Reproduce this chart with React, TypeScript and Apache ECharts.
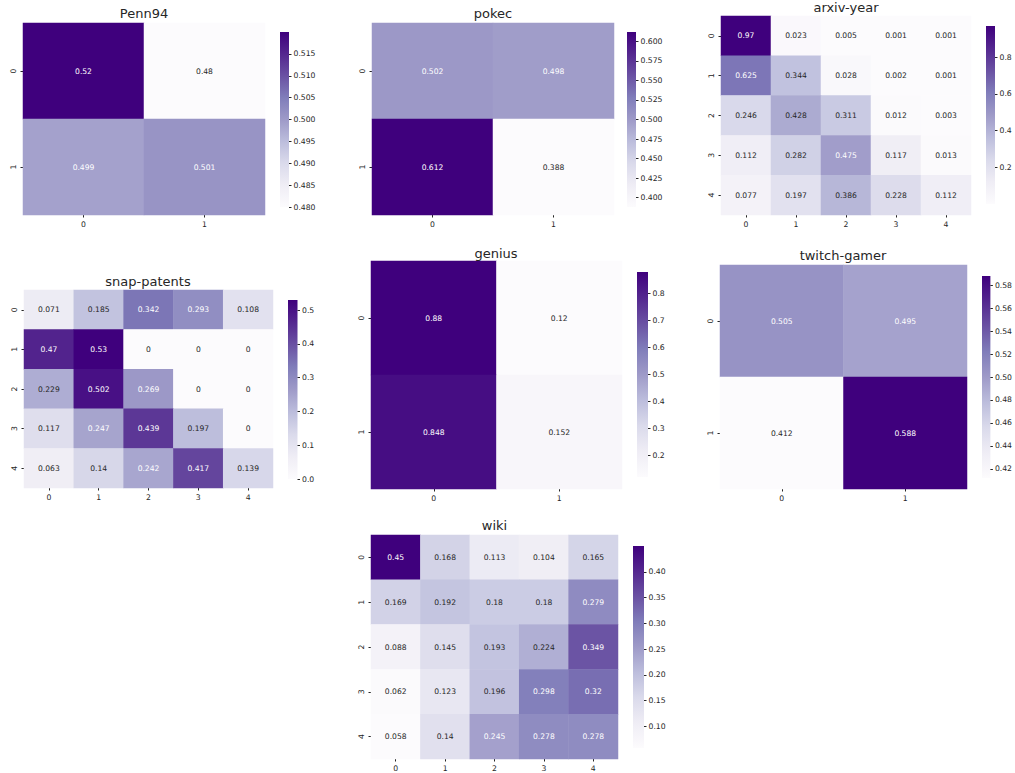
import React, { useEffect, useRef } from "react";
import * as echarts from "echarts";

// ---------- data ----------
const titles = ["Penn94", "pokec", "arxiv-year", "snap-patents", "genius", "twitch-gamer", "wiki"];
const categories2 = ["0", "1"];
const categories5 = ["0", "1", "2", "3", "4"];

const penn94 = [
  [0.52, 0.48],
  [0.499, 0.501],
];
const pokec = [
  [0.502, 0.498],
  [0.612, 0.388],
];
const arxivYear = [
  [0.97, 0.023, 0.005, 0.001, 0.001],
  [0.625, 0.344, 0.028, 0.002, 0.001],
  [0.246, 0.428, 0.311, 0.012, 0.003],
  [0.112, 0.282, 0.475, 0.117, 0.013],
  [0.077, 0.197, 0.386, 0.228, 0.112],
];
const snapPatents = [
  [0.071, 0.185, 0.342, 0.293, 0.108],
  [0.47, 0.53, 0, 0, 0],
  [0.229, 0.502, 0.269, 0, 0],
  [0.117, 0.247, 0.439, 0.197, 0],
  [0.063, 0.14, 0.242, 0.417, 0.139],
];
const genius = [
  [0.88, 0.12],
  [0.848, 0.152],
];
const twitchGamer = [
  [0.505, 0.495],
  [0.412, 0.588],
];
const wiki = [
  [0.45, 0.168, 0.113, 0.104, 0.165],
  [0.169, 0.192, 0.18, 0.18, 0.279],
  [0.088, 0.145, 0.193, 0.224, 0.349],
  [0.062, 0.123, 0.196, 0.298, 0.32],
  [0.058, 0.14, 0.245, 0.278, 0.278],
];
const matrices = [penn94, pokec, arxivYear, snapPatents, genius, twitchGamer, wiki];

// colorbar tick labels
const cbTicksPenn94 = [0.48, 0.485, 0.49, 0.495, 0.5, 0.505, 0.51, 0.515];
const cbTicksPokec = [0.4, 0.425, 0.45, 0.475, 0.5, 0.525, 0.55, 0.575, 0.6];
const cbTicksArxiv = [0.2, 0.4, 0.6, 0.8];
const cbTicksSnap = [0.0, 0.1, 0.2, 0.3, 0.4, 0.5];
const cbTicksGenius = [0.2, 0.3, 0.4, 0.5, 0.6, 0.7, 0.8];
const cbTicksTwitch = [0.42, 0.44, 0.46, 0.48, 0.5, 0.52, 0.54, 0.56, 0.58];
const cbTicksWiki = [0.1, 0.15, 0.2, 0.25, 0.3, 0.35, 0.4];
const cbTicks = [cbTicksPenn94, cbTicksPokec, cbTicksArxiv, cbTicksSnap, cbTicksGenius, cbTicksTwitch, cbTicksWiki];
const cbDecimals = [3, 3, 1, 1, 1, 2, 2];

// ---------- layout & style ----------
const heatBoxes = [
  { left: 23, top: 23, width: 242, height: 192 },
  { left: 372, top: 23, width: 242, height: 192 },
  { left: 721, top: 16, width: 250, height: 199 },
  { left: 24, top: 290, width: 249, height: 198 },
  { left: 371, top: 261, width: 251, height: 228 },
  { left: 720, top: 265, width: 247, height: 224 },
  { left: 371, top: 535, width: 247, height: 224 },
];
const cbarBoxes = [
  { left: 280, top: 32, width: 9, height: 175 },
  { left: 627, top: 32, width: 9, height: 175 },
  { left: 986, top: 26, width: 9, height: 178 },
  { left: 288, top: 300, width: 9.5, height: 179 },
  { left: 637, top: 272, width: 11, height: 205 },
  { left: 982, top: 276, width: 11, height: 202 },
  { left: 633, top: 546, width: 11, height: 202 },
];
const titlePos = [
  [144, 7],
  [493, 7],
  [846, 0.5],
  [148, 275],
  [496, 246.5],
  [843, 249],
  [494.5, 519],
];

const PURPLES = ["#fcfbfd", "#efedf5", "#dadaeb", "#bcbddc", "#9e9ac8", "#807dba", "#6a51a3", "#54278f", "#3f007d"];
const FONT = "DejaVu Sans";
const DARK = "#262626";

function hexToRgb(h: string): number[] {
  return [parseInt(h.slice(1, 3), 16), parseInt(h.slice(3, 5), 16), parseInt(h.slice(5, 7), 16)];
}
function cmap(t: number): number[] {
  const n = PURPLES.length;
  const tt = Math.max(0, Math.min(1, t));
  const s = tt * (n - 1);
  const i = Math.min(Math.floor(s), n - 2);
  const f = s - i;
  const a = hexToRgb(PURPLES[i]);
  const b = hexToRgb(PURPLES[i + 1]);
  return [0, 1, 2].map((k) => a[k] + (b[k] - a[k]) * f);
}
function luminance(rgb: number[]): number {
  const lin = (c: number) => {
    const x = c / 255;
    return x <= 0.03928 ? x / 12.92 : Math.pow((x + 0.055) / 1.055, 2.4);
  };
  return 0.2126 * lin(rgb[0]) + 0.7152 * lin(rgb[1]) + 0.0722 * lin(rgb[2]);
}

function buildOption() {
  const grid: any[] = [];
  const xAxis: any[] = [];
  const yAxis: any[] = [];
  const series: any[] = [];
  const visualMap: any[] = [];
  const title: any[] = [];

  matrices.forEach((m, i) => {
    const cats = m.length === 2 ? categories2 : categories5;
    const flat = m.flat();
    const vmin = Math.min(...flat);
    const vmax = Math.max(...flat);

    grid.push({ ...heatBoxes[i], containLabel: false });
    grid.push({ ...cbarBoxes[i], containLabel: false });

    const tickStyle = { show: true, alignWithLabel: true, length: 2.5, lineStyle: { color: DARK, width: 1 } };
    const labelStyle = { fontSize: 7.7, color: DARK, fontFamily: FONT };

    xAxis.push({
      type: "category",
      gridIndex: 2 * i,
      data: cats,
      position: "bottom",
      axisLine: { show: false },
      axisTick: tickStyle,
      axisLabel: { ...labelStyle, margin: 5 },
      splitLine: { show: false },
      splitArea: { show: false },
    });
    yAxis.push({
      type: "category",
      gridIndex: 2 * i,
      data: cats,
      inverse: true,
      axisLine: { show: false },
      axisTick: tickStyle,
      axisLabel: { ...labelStyle, margin: 6, rotate: 90 },
      splitLine: { show: false },
      splitArea: { show: false },
    });
    xAxis.push({
      type: "value",
      gridIndex: 2 * i + 1,
      min: 0,
      max: 1,
      show: false,
      axisLine: { onZero: false },
    });
    yAxis.push({
      type: "value",
      gridIndex: 2 * i + 1,
      min: vmin,
      max: vmax,
      position: "right",
      z: 10,
      axisLine: { show: false, onZero: false },
      splitLine: { show: false },
      axisTick: {
        show: true,
        inside: false,
        length: 2.5,
        customValues: cbTicks[i],
        lineStyle: { color: DARK, width: 1 },
      },
      axisLabel: {
        ...labelStyle,
        inside: false,
        margin: 4.5,
        customValues: cbTicks[i],
        formatter: (v: number) => v.toFixed(cbDecimals[i]),
      },
    });

    const data: any[] = [];
    m.forEach((row, r) => {
      row.forEach((v, c) => {
        const rgb = cmap((v - vmin) / (vmax - vmin));
        const col = luminance(rgb) > 0.408 ? DARK : "#ffffff";
        data.push({ value: [c, r, v], label: { color: col } });
      });
    });

    series.push({
      type: "heatmap",
      name: titles[i],
      xAxisIndex: 2 * i,
      yAxisIndex: 2 * i,
      data,
      label: {
        show: true,
        fontSize: 7.6,
        fontFamily: FONT,
        formatter: (p: any) => String(p.value[2]),
      },
      itemStyle: { borderWidth: 0 },
      emphasis: { disabled: true },
    });
    series.push({
      type: "custom",
      xAxisIndex: 2 * i + 1,
      yAxisIndex: 2 * i + 1,
      data: [[0.5, vmin]],
      silent: true,
      z: -1,
      renderItem: (params: any) => {
        const cs = params.coordSys;
        return {
          type: "rect",
          shape: { x: cs.x, y: cs.y, width: cs.width, height: cs.height },
          style: {
            fill: new echarts.graphic.LinearGradient(
              0,
              1,
              0,
              0,
              PURPLES.map((c, k) => ({ offset: k / (PURPLES.length - 1), color: c }))
            ),
          },
        };
      },
    });

    visualMap.push({
      type: "continuous",
      show: false,
      min: vmin,
      max: vmax,
      seriesIndex: 2 * i,
      dimension: 2,
      inRange: { color: PURPLES },
    });

    title.push({
      text: titles[i],
      left: titlePos[i][0],
      top: titlePos[i][1],
      textAlign: "center",
      padding: 0,
      textStyle: { fontSize: 13, fontWeight: "normal", color: DARK, fontFamily: FONT },
    });
  });

  return {
    animation: false,
    backgroundColor: "#ffffff",
    title,
    grid,
    xAxis,
    yAxis,
    visualMap,
    series,
  };
}

export default function App() {
  const ref = useRef<HTMLDivElement>(null);
  useEffect(() => {
    if (!ref.current) return;
    const chart = echarts.init(ref.current, undefined, { renderer: "svg" });
    chart.setOption(buildOption() as any);
    return () => chart.dispose();
  }, []);
  return (
    <div
      ref={ref}
      style={{ position: "fixed", left: 0, top: 0, width: 1015, height: 773, background: "#fff" }}
    />
  );
}
